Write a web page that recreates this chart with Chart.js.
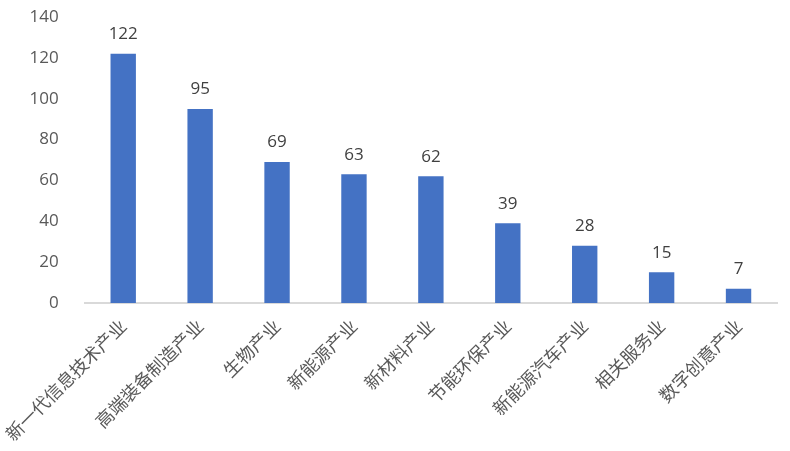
<!DOCTYPE html>
<html>
<head>
<meta charset="utf-8">
<script src="https://cdn.jsdelivr.net/npm/chart.js@4/dist/chart.umd.min.js"></script>
<style>
    html, body { margin: 0; padding: 0; background: #ffffff; }
    #wrap { width: 790px; height: 451px; }
</style>
</head>
<body>
<div id="wrap"><canvas id="chart"></canvas></div>
<script>
// data
const categories = ['新一代信息技术产业', '高端装备制造产业', '生物产业', '新能源产业', '新材料产业',
    '节能环保产业', '新能源汽车产业', '相关服务业', '数字创意产业'];
const counts = [122, 95, 69, 63, 62, 39, 28, 15, 7];
const yTicks = [0, 20, 40, 60, 80, 100, 120, 140];

const valueLabels = {
    id: 'valueLabels',
    afterDatasetsDraw(chart) {
        const { ctx } = chart;
        ctx.save();
        ctx.textAlign = 'center';
        ctx.textBaseline = 'bottom';
        ctx.fillStyle = '#404040';
        ctx.font = '17px "Open Sans", "Noto Sans", sans-serif';
        const meta = chart.getDatasetMeta(0);
        meta.data.forEach((bar, i) => {
            ctx.fillText(String(counts[i]), bar.x, bar.y - 11);
        });
        ctx.restore();
    }
};

new Chart(document.getElementById('chart'), {
    type: 'bar',
    data: {
        labels: categories,
        datasets: [{
            data: counts,
            backgroundColor: '#4472C4',
            categoryPercentage: 1,
            barPercentage: 0.33
        }]
    },
    options: {
        responsive: true,
        maintainAspectRatio: false,
        animation: false,
        layout: { padding: { top: 17, right: 13, left: 0, bottom: 0 } },
        plugins: {
            legend: { display: false },
            tooltip: { enabled: false }
        },
        scales: {
            y: {
                min: 0,
                max: 140,
                afterBuildTicks(axis) { axis.ticks = yTicks.map(v => ({ value: v })); },
                afterFit(axis) {
                    axis.width = 84;
                    axis.paddingTop = 0;
                    axis.paddingBottom = 0;
                },
                grid: { display: false },
                border: { display: false },
                ticks: {
                    color: '#595959',
                    padding: 18,
                    font: { family: '"Open Sans", "Noto Sans", sans-serif', size: 17 }
                }
            },
            x: {
                afterFit(axis) { axis.height = 148; },
                grid: { display: false },
                border: { display: true, color: '#D9D9D9', width: 2 },
                ticks: {
                    autoSkip: false,
                    maxRotation: 45,
                    minRotation: 45,
                    color: '#595959',
                    padding: 4,
                    font: { family: '"Noto Sans CJK SC", sans-serif', size: 18 }
                }
            }
        }
    },
    plugins: [valueLabels]
});
</script>
</body>
</html>
